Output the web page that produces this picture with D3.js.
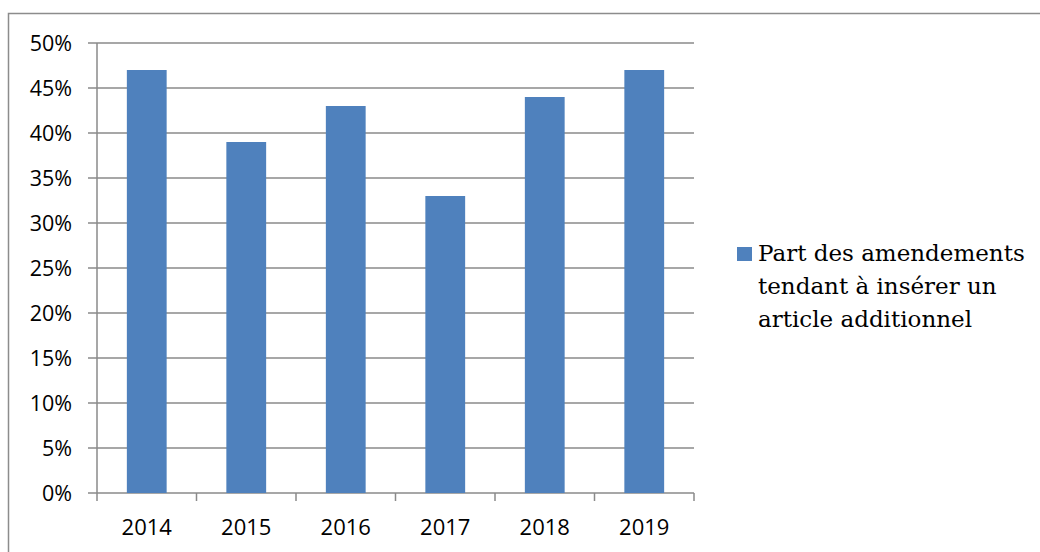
<!DOCTYPE html>
<html>
<head>
<meta charset="utf-8">
<script src="https://cdn.jsdelivr.net/npm/d3@7"></script>
<style>
  html, body { margin: 0; padding: 0; background: #fff; }
  svg { display: block; }
</style>
</head>
<body>
<svg id="chart" width="1040" height="552"></svg>
<script>
// Share of amendments inserting an additional article, by year
const years = ["2014", "2015", "2016", "2017", "2018", "2019"];
const shares = [47, 39, 43, 33, 44, 47];
const yTicks = [0, 5, 10, 15, 20, 25, 30, 35, 40, 45, 50];
const legendLines = ["Part des amendements", "tendant à insérer un", "article additionnel"];

const svg = d3.select("#chart");
const gridColor = "#8a8a8a";
const barColor = "#4f81bd";
const axisFont = "'Open Sans', 'DejaVu Sans', sans-serif";

// outer chart frame (runs off the right and bottom edges)
svg.append("rect")
  .attr("x", 8.5).attr("y", 13.5)
  .attr("width", 1100).attr("height", 600)
  .attr("fill", "none").attr("stroke", "#8c8c8c").attr("stroke-width", 1.5);

const plot = { left: 97, right: 694, top: 43, bottom: 493 };

const x = d3.scaleBand()
  .domain(years)
  .range([plot.left, plot.right])
  .paddingInner(0.6)
  .paddingOuter(0.3);

const y = d3.scaleLinear()
  .domain([0, 50])
  .range([plot.bottom, plot.top]);

// horizontal gridlines with small left ticks
svg.append("g")
  .selectAll("line")
  .data(yTicks)
  .join("line")
  .attr("x1", plot.left - 9).attr("x2", plot.right)
  .attr("y1", d => y(d)).attr("y2", d => y(d))
  .attr("stroke", gridColor).attr("stroke-width", 1.5);

// y-axis labels
svg.append("g")
  .selectAll("text")
  .data(yTicks)
  .join("text")
  .attr("x", 72)
  .attr("y", d => y(d))
  .attr("dy", "0.36em")
  .attr("text-anchor", "end")
  .attr("font-family", axisFont)
  .attr("font-size", 21.5)
  .attr("fill", "#000")
  .text(d => d + "%");

// bars
svg.append("g")
  .selectAll("rect")
  .data(shares)
  .join("rect")
  .attr("x", (d, i) => x(years[i]))
  .attr("width", x.bandwidth())
  .attr("y", d => y(d))
  .attr("height", d => y(0) - y(d))
  .attr("fill", barColor);

// y axis line
svg.append("line")
  .attr("x1", plot.left).attr("x2", plot.left)
  .attr("y1", plot.top).attr("y2", plot.bottom)
  .attr("stroke", gridColor).attr("stroke-width", 1.5);

// category separator ticks below the baseline
const step = x.step();
const tickXs = d3.range(years.length + 1).map(i => plot.left + i * step);
svg.append("g")
  .selectAll("line")
  .data(tickXs)
  .join("line")
  .attr("x1", d => d).attr("x2", d => d)
  .attr("y1", plot.bottom).attr("y2", plot.bottom + 8)
  .attr("stroke", gridColor).attr("stroke-width", 1.5);

// x-axis labels
svg.append("g")
  .selectAll("text")
  .data(years)
  .join("text")
  .attr("x", d => x(d) + x.bandwidth() / 2)
  .attr("y", 535)
  .attr("text-anchor", "middle")
  .attr("font-family", axisFont)
  .attr("font-size", 22)
  .attr("fill", "#000")
  .text(d => d);

// legend
const legend = svg.append("g");
legend.append("rect")
  .attr("x", 737).attr("y", 247)
  .attr("width", 15).attr("height", 14)
  .attr("fill", barColor);
legend.append("text")
  .attr("font-family", "'DejaVu Serif', 'Liberation Serif', serif")
  .attr("font-size", 23)
  .attr("fill", "#000")
  .selectAll("tspan")
  .data(legendLines)
  .join("tspan")
  .attr("x", 758)
  .attr("y", (d, i) => 261 + i * 33)
  .text(d => d);
</script>
</body>
</html>
